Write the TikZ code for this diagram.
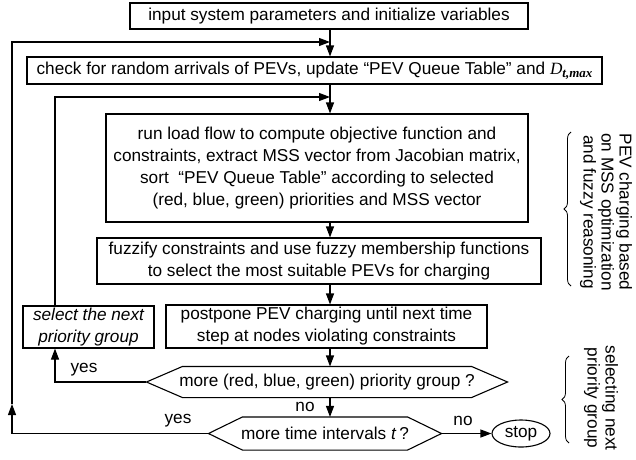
\documentclass[tikz,border=0pt]{standalone}
\usepackage{fontspec}
\setmainfont{Liberation Sans}
\newfontfamily\seriffont{Liberation Serif}
\usetikzlibrary{arrows.meta,shapes.geometric,decorations.pathreplacing}
\begin{document}
\begin{tikzpicture}[x=1pt,y=-1pt,
  font=\fontsize{17.2}{22}\selectfont,
  line width=1.1pt,
  box/.style={draw, align=center, inner sep=0pt},
  hexa/.style={inner sep=0pt, align=center},
  arr/.style={-{Triangle[length=11pt,width=8pt]}},
  lab/.style={inner sep=0pt, anchor=center},
  brc/.style={decorate, decoration={brace, amplitude=7pt}, line width=0.8pt},
  sidetxt/.style={rotate=-90, align=center, inner sep=0pt, font=\fontsize{17.2}{18}\selectfont}
]
\useasboundingbox (0,0) rectangle (636,459);

\node[box, minimum width=398, minimum height=26] (b1) at (329,16)
  {input system parameters and initialize variables};
\node[box, minimum width=575, minimum height=27] (b2) at (314.5,70.5)
  {check for random arrivals of PEVs, update “PEV Queue Table” and {\seriffont\itshape D\raisebox{-0.35ex}{\fontsize{13}{13}\selectfont\bfseries t,max}}};
\node[box, minimum width=422, minimum height=108] (b3) at (317,168)
  {run load flow to compute objective function and\\
   constraints, extract MSS vector from Jacobian matrix,\\
   sort \ “PEV Queue Table” according to selected\\
   (red, blue, green) priorities and MSS vector};
\node[box, minimum width=444, minimum height=46] (b4) at (319,261)
  {fuzzify constraints and use fuzzy membership functions\\
   to select the most suitable PEVs for charging};
\node[box, minimum width=321, minimum height=43] (b5) at (326.5,326.5)
  {postpone PEV charging until next time\\
   step at nodes violating constraints};
\node[box, minimum width=131, minimum height=42, font=\fontsize{17.2}{22}\selectfont\itshape] (sel) at (88.5,327)
  {select the next\\priority group};

\node[hexa, minimum width=360, minimum height=30] (h1) at (327,382)
  {more (red, blue, green) priority group ?};
\draw (h1.west) -- ([xshift=36pt]h1.north west) -- ([xshift=-36pt]h1.north east)
  -- (h1.east) -- ([xshift=-36pt]h1.south east) -- ([xshift=36pt]h1.south west) -- cycle;
\node[hexa, minimum width=232, minimum height=32] (h2) at (325,433.5)
  {more time intervals \textit{t}\,?};
\draw (h2.west) -- ([xshift=34pt]h2.north west) -- ([xshift=-34pt]h2.north east)
  -- (h2.east) -- ([xshift=-34pt]h2.south east) -- ([xshift=34pt]h2.south west) -- cycle;
\node[draw, ellipse, minimum width=58, minimum height=27, inner sep=0pt] (stop) at (521,433.5) {stop};

% main axis
\coordinate (ax) at (330,0);
\coordinate (lx) at (55,0);
\coordinate (j1) at (330,42);
\coordinate (j2) at (330,97);
\coordinate (L1) at (55,382);
\coordinate (L2) at (12,433.5);
\coordinate (L2a) at (12,404);

\draw[arr] (b1.south -| ax) -- (b2.north -| ax);
\draw[arr] (b2.south -| ax) -- (b3.north -| ax);
\draw[arr] (b3.south -| ax) -- (b4.north -| ax);
\draw[arr] (b4.south -| ax) -- (b5.north -| ax);
\draw[arr] (b5.south -| ax) -- (h1.north -| ax);
\draw[arr] (h1.south -| ax) -- (h2.north -| ax);
\draw[arr] (h2.east) -- (stop.west);

\draw[arr] (h1.west) -- (L1) -- (sel.south -| lx);
\draw[arr] (sel.north -| lx) |- (j2);
\draw[arr] (h2.west) -- (L2) -- (L2a);
\draw[arr] (L2a) |- (j1);

\node[lab] (y1) at (84,370) {yes};
\node[lab] (n1) at (305,407) {no};
\node[lab] (y2) at (178,421) {yes};
\node[lab] (n2) at (463,421) {no};

\coordinate (br1a) at (571,286);
\coordinate (br1b) at (571,132);
\coordinate (br2a) at (569,443);
\coordinate (br2b) at (569,356);
\draw[brc] (br1a) -- (br1b);
\draw[brc] (br2a) -- (br2b);
\node[sidetxt] (t1) at (606,212) {PEV charging based\\on MSS optimization\\and fuzzy reasoning};
\node[sidetxt] (t2) at (601,398) {selecting next\\priority group};
\end{tikzpicture}
\end{document}
